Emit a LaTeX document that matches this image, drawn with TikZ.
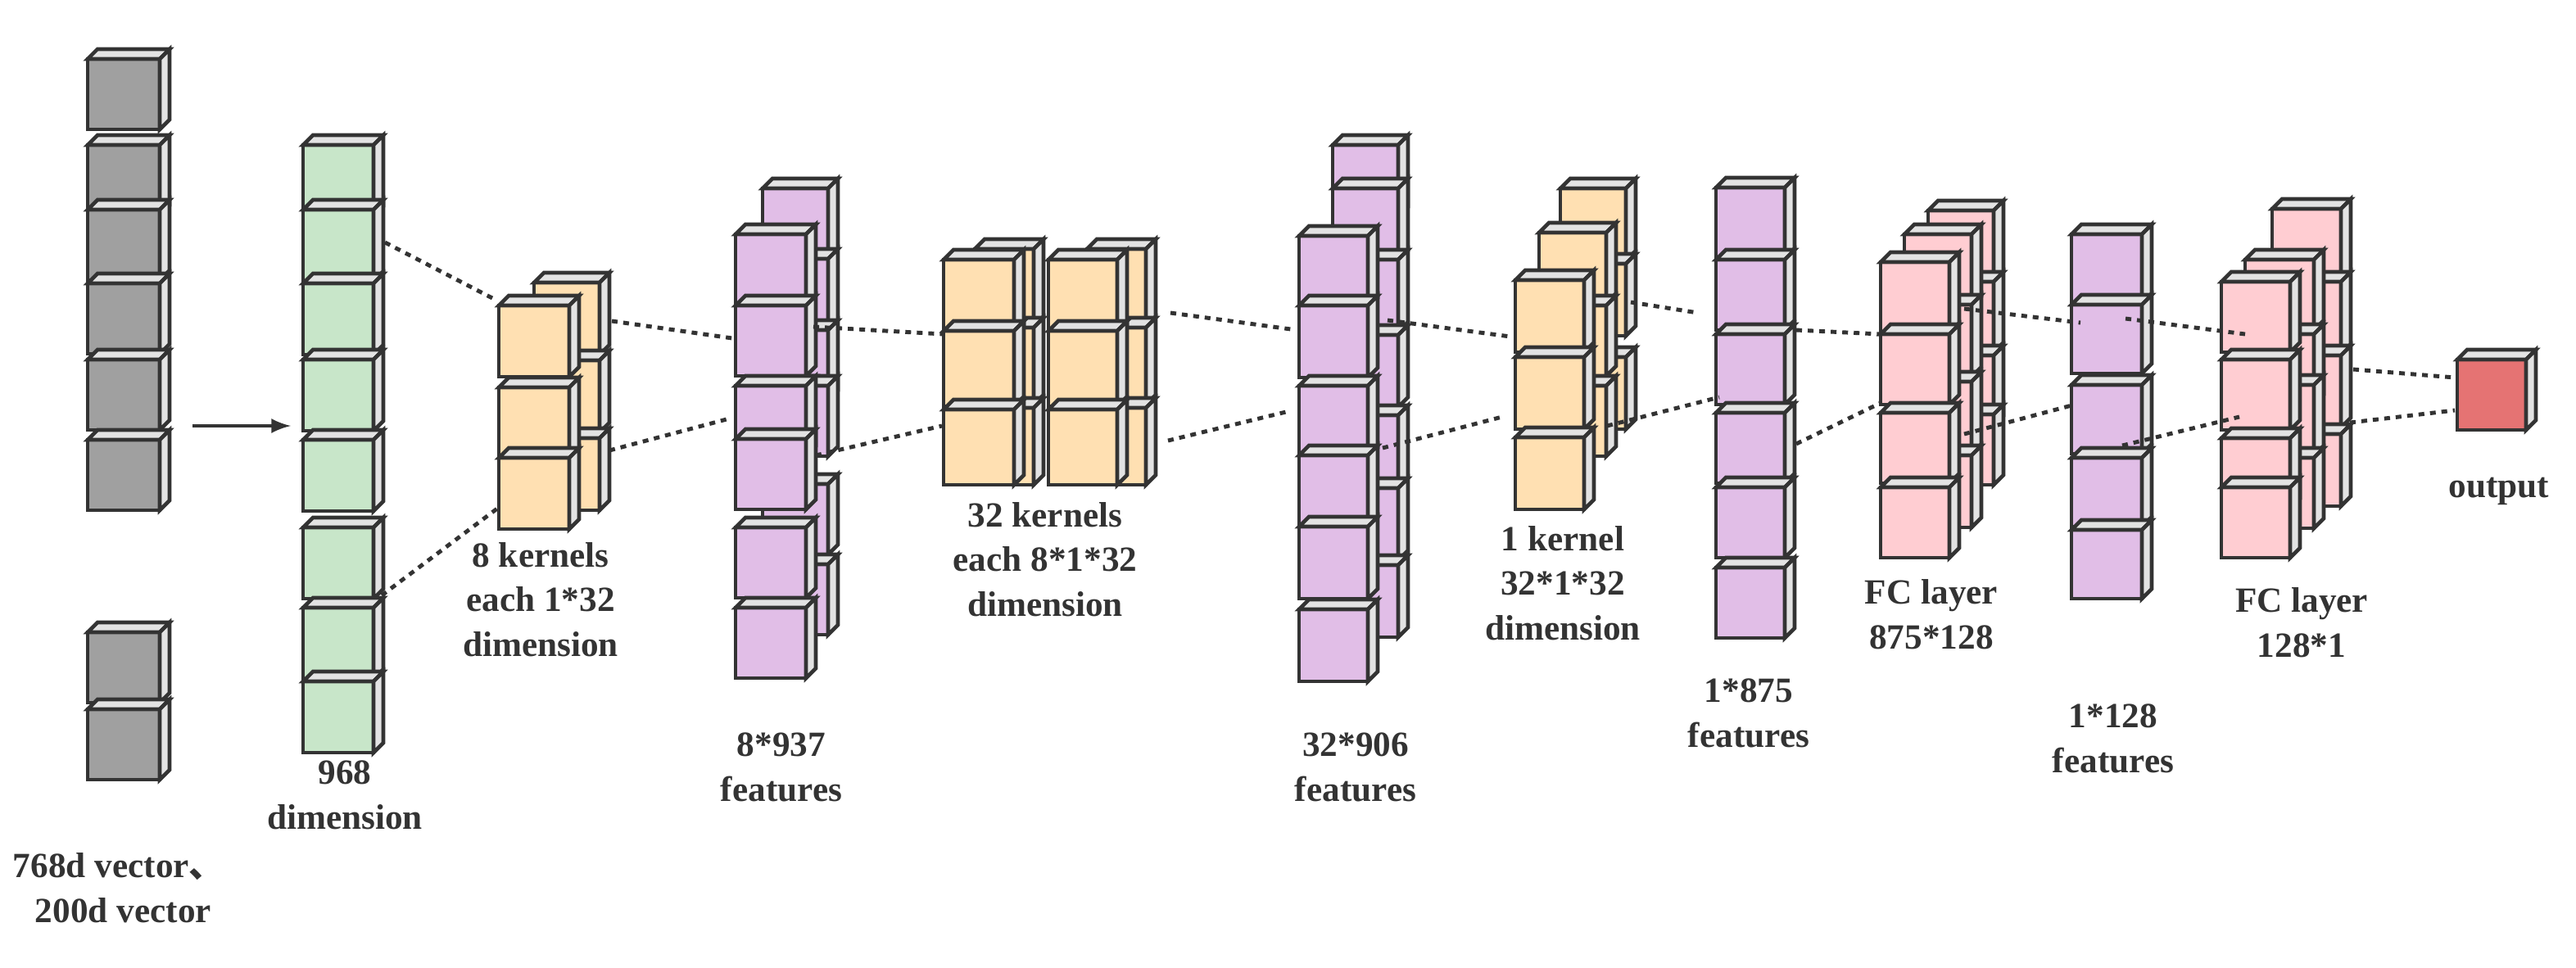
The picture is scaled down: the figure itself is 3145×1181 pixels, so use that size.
\documentclass[tikz,border=0pt]{standalone}
\usepackage{fontspec}
\setmainfont{Liberation Serif}
\newfontfamily\cjk{Noto Sans CJK SC}
\begin{document}
\begin{tikzpicture}[x=0.1mm,y=-0.1mm,
  cube/.style={draw=ink,line width=1.3pt,line join=miter},
  lbl/.style={text=ink,font=\fontsize{12.3}{15.5}\selectfont\bfseries,align=center},
  dot/.style={draw=ink,line width=1.4pt,dash pattern=on 2pt off 2pt}]
\definecolor{ink}{HTML}{333333}
\definecolor{topc}{HTML}{E3E3E3}
\definecolor{gr}{HTML}{A0A0A0}
\definecolor{gn}{HTML}{C8E6C9}
\definecolor{or}{HTML}{FFE0B2}
\definecolor{pu}{HTML}{E1BEE7}
\definecolor{pk}{HTML}{FFCDD2}
\definecolor{rd}{HTML}{E57373}
\newcommand\cb[5]{%
  \filldraw[cube,fill=#5] (#1,#2) rectangle ++(#3,#4);
  \filldraw[cube,fill=topc] (#1,#2) -- ++(12,-12) -- ++(#3,0) -- ++(-12,12) -- cycle;
  \filldraw[cube,fill=topc] (#1+#3,#2) -- ++(12,-12) -- ++(0,#4) -- ++(-12,12) -- cycle;}
\newcommand\col[5]{\foreach \t in {#5}{\cb{#1}{\t}{#2}{#3}{#4}}}
\useasboundingbox (0,0) rectangle (3145,1181);
% gray input
\col{107}{88}{86}{gr}{72,177,256,346,439,537,772,866}
\coordinate (a1) at (235,520);
\coordinate (a2) at (355,520);
\draw[draw=ink,line width=1.3pt,-latex] (a1) -- (a2);
% green
\col{370}{86}{87}{gn}{177,256,346,439,537,644,742,832}
% 8 kernels
\col{652}{80}{88}{or}{345,440,535}
\col{609}{86}{87}{or}{373,473,559}
% 8*937
\col{931}{80}{86}{pu}{230,316,403,471,591,689}
\col{898}{86}{86}{pu}{286,373,471,536,644,742}
% 32 kernels
\col{1190}{72}{94}{or}{304,400,498}
\col{1152}{86}{92}{or}{317,404,500}
\col{1327}{72}{94}{or}{304,400,498}
\col{1280}{84}{92}{or}{317,404,500}
% 32*906
\col{1627}{80}{88}{pu}{177,230,317,409,507,596,690}
\col{1586}{84}{88}{pu}{288,373,471,556,643,744}
% 1 kernel
\col{1905}{80}{88}{or}{230,322,436}
\col{1879}{82}{86}{or}{284,373,471}
\col{1850}{84}{88}{or}{342,436,534}
% 1*875
\col{2095}{84}{86}{pu}{229,317,408,504,595,693}
% FC 875*128
\col{2354}{80}{86}{pk}{257,344,434,506}
\col{2325}{82}{88}{pk}{286,372,466,556}
\col{2296}{84}{86}{pk}{320,408,504,595}
% 1*128
\col{2529}{86}{84}{pu}{286,372,470,559,647}
% FC 128*1
\col{2774}{84}{88}{pk}{255,344,434,530}
\col{2741}{84}{86}{pk}{317,408,470,559}
\col{2712}{84}{86}{pk}{344,439,535,595}
% output
\cb{3000}{439}{84}{86}{rd}
% dotted connectors
\draw[dot] (470,296) -- (603,365);
\draw[dot] (466,727) -- (607,621);
\draw[dot] (747,392) -- (894,413);
\draw[dot] (744,550) -- (887,512);
\draw[dot] (993,399) -- (1152,408);
\draw[dot] (996,556) -- (1150,520);
\draw[dot] (1429,382) -- (1576,402);
\draw[dot] (1426,538) -- (1570,503);
\draw[dot] (1694,391) -- (1844,411);
\draw[dot] (1688,547) -- (1834,509);
\draw[dot] (1991,369) -- (2073,382);
\draw[dot] (1962,520) -- (2099,485);
\draw[dot] (2193,403) -- (2296,408);
\draw[dot] (2193,542) -- (2296,492);
\draw[dot] (2398,377) -- (2540,394);
\draw[dot] (2398,530) -- (2533,494);
\draw[dot] (2595,389) -- (2741,408);
\draw[dot] (2591,544) -- (2734,509);
\draw[dot] (2873,451) -- (2997,461);
\draw[dot] (2869,516) -- (2997,501);
% labels
\node[lbl] (l1) at (145,1084) {768d vector{\cjk 、}\\\ 200d vector};
\node[lbl] (l2) at (421,971) {968\\dimension};
\node[lbl] (l3) at (660,732) {8 kernels\\each 1*32\\dimension};
\node[lbl] (l4) at (954,937) {8*937\\features};
\node[lbl] (l5) at (1276,683) {32 kernels\\each 8*1*32\\dimension};
\node[lbl] (l6) at (1655,937) {32*906\\features};
\node[lbl] (l7) at (1908,712) {1 kernel\\32*1*32\\dimension};
\node[lbl] (l8) at (2135,871) {1*875\\features};
\node[lbl] (l9) at (2358,750) {FC layer\\875*128};
\node[lbl] (l10) at (2580,902) {1*128\\features};
\node[lbl] (l11) at (2810,760) {FC layer\\128*1};
\node[lbl] (l12) at (3051,600) {output};
\end{tikzpicture}
\end{document}
